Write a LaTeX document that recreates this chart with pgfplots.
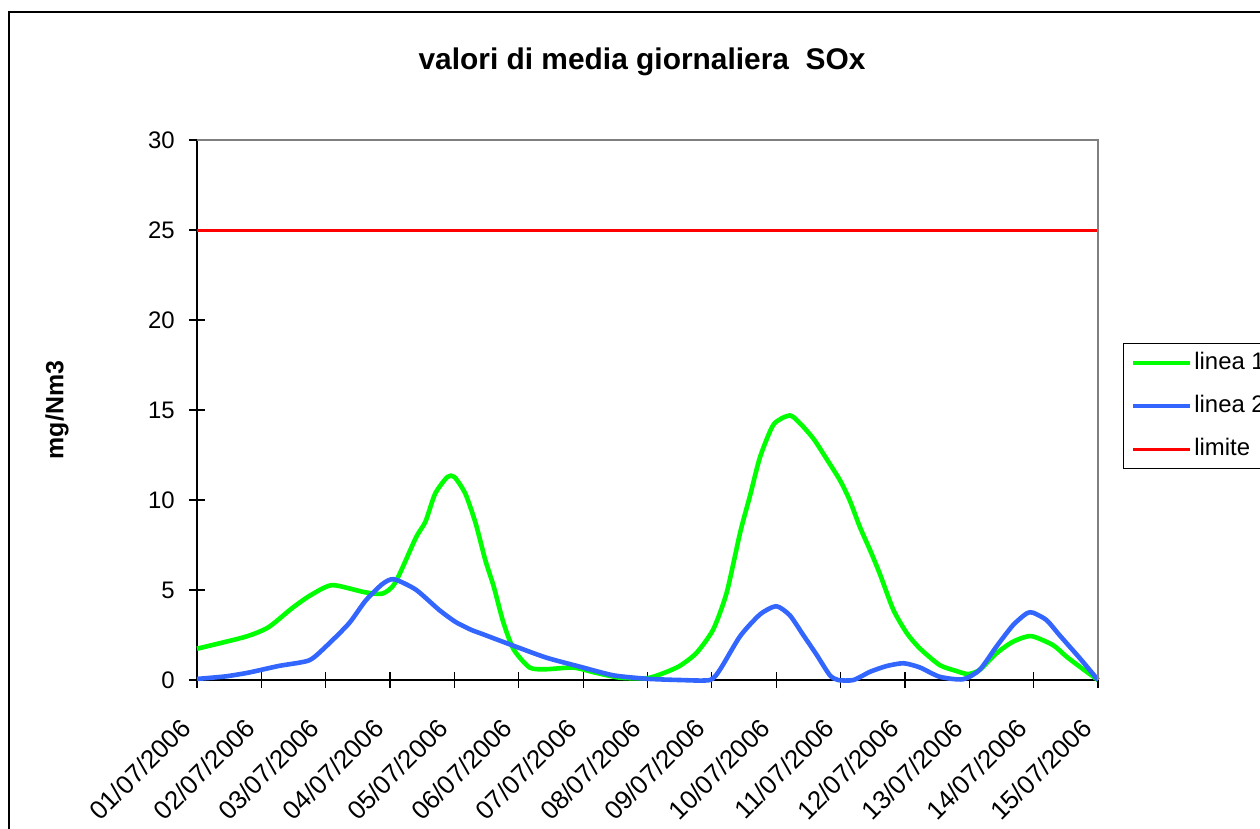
\documentclass[border=0pt]{standalone}
\usepackage{fontspec}
\setmainfont{Liberation Sans}
\usepackage{pgfplots}
\pgfplotsset{compat=1.18}
\definecolor{lgreen}{HTML}{00FF00}
\definecolor{lblue}{HTML}{3366FF}
\definecolor{lred}{HTML}{FF0000}
\definecolor{bordergray}{HTML}{808080}

\begin{document}
\begin{tikzpicture}
\useasboundingbox (0,0) rectangle (630bp,-414.5bp);
\begin{scope}
\clip (0,0) rectangle (630bp,-414.5bp);
\draw[line width=1bp] (4.5bp,-6bp) rectangle (700bp,-500bp);
\node[font=\fontsize{15}{17}\selectfont\bfseries] at (321bp,-31bp) {valori di media giornaliera\ \ SOx};
\begin{axis}[
  at={(98.5bp,-340bp)}, anchor=south west,
  scale only axis, width=450.5bp, height=270bp,
  xmin=0, xmax=14, ymin=0, ymax=30,
  axis lines=left,
  axis line style={-, line width=0.8bp, black},
  tick align=center,
  major tick length=8bp,
  tick style={line width=0.6bp, black},
  xtick={0,1,...,14},
  xticklabels={01/07/2006,02/07/2006,03/07/2006,04/07/2006,05/07/2006,06/07/2006,07/07/2006,08/07/2006,09/07/2006,10/07/2006,11/07/2006,12/07/2006,13/07/2006,14/07/2006,15/07/2006},
  ytick={0,5,...,30},
  /pgf/number format/assume math mode=true,
  yticklabel style={font=\fontsize{12}{14}\selectfont, anchor=east, inner sep=0pt, xshift=-7bp},
  xticklabel style={font=\fontsize{13}{15}\selectfont, anchor=north east, inner sep=0pt, xshift=-9bp, yshift=-14bp, rotate=45},
  ylabel={mg/Nm3},
  ylabel style={font=\fontsize{12.5}{14}\selectfont\bfseries, at={(axis description cs:-0.1554,0.5)}, anchor=center},
  clip=false,
  legend style={at={(axis description cs:1,0.5)}, anchor=west, xshift=12.35bp, yshift=2bp,
    draw=black, line width=0.75bp, fill=white, font=\fontsize{12}{14}\selectfont,
    inner xsep=3.65bp, inner ysep=3bp, row sep=8bp,
    nodes={inner sep=1bp, text height=9bp, text depth=2.5bp}},
  legend cell align=left,
  legend image code/.code={\draw[#1] (0bp,0bp) -- (28.5bp,0bp);},
]
\addplot[lgreen, line width=2.3bp, smooth, tension=0.4, line join=round] coordinates {
(0,1.74) (0.75,2.4) (1.11,2.93) (1.48,4.0) (1.76,4.7) (2.1,5.27) (2.6,4.88) (2.88,4.8)
(3.08,5.4) (3.4,7.9) (3.55,8.8) (3.7,10.35) (3.89,11.28) (4.0,11.28) (4.17,10.35) (4.33,8.7)
(4.48,6.66) (4.61,5.2) (4.76,3.2) (4.92,1.7) (5.17,0.69) (5.43,0.6) (5.85,0.69) (6.2,0.4)
(6.57,0.13) (6.99,0.1) (7.24,0.37) (7.5,0.78) (7.76,1.5) (8.02,2.8) (8.23,4.85) (8.44,8.2)
(8.59,10.2) (8.75,12.4) (8.96,14.2) (9.21,14.7) (9.37,14.26) (9.58,13.4) (9.78,12.3) (9.99,11.1)
(10.14,10.0) (10.30,8.5) (10.46,7.2) (10.61,5.9) (10.82,3.9) (11.03,2.6) (11.23,1.76) (11.54,0.83)
(11.80,0.5) (11.98,0.33) (12.16,0.56) (12.42,1.48) (12.68,2.13) (12.96,2.44) (13.30,1.94) (13.51,1.3)
(13.75,0.65) (14,0)
};
\addlegendentry{linea 1}
\addplot[lblue, line width=2.3bp, smooth, tension=0.4, line join=round] coordinates {
(0,0.06) (0.44,0.2) (0.8,0.41) (1.27,0.78) (1.74,1.09) (2.0,1.85) (2.36,3.14) (2.62,4.41)
(2.88,5.33) (3.06,5.6) (3.4,5.02) (3.76,3.9) (4.02,3.22) (4.27,2.77) (4.40,2.6) (4.92,1.9)
(5.43,1.24) (5.95,0.74) (6.47,0.26) (6.99,0.07) (7.5,0) (7.97,0) (8.13,0.6) (8.44,2.44)
(8.75,3.65) (9.0,4.1) (9.21,3.6) (9.42,2.5) (9.63,1.39) (9.83,0.28) (9.96,0) (10.2,0)
(10.46,0.46) (10.72,0.78) (10.98,0.93) (11.23,0.7) (11.54,0.18) (11.9,0.04) (12.16,0.56) (12.42,1.85)
(12.68,3.05) (12.89,3.7) (12.99,3.74) (13.2,3.33) (13.4,2.5) (13.72,1.2) (14,0)
};
\addlegendentry{linea 2}
\addplot[lred, line width=1.5bp] coordinates {(0,25) (14,25)};
\addlegendentry{limite}
\draw[bordergray, line width=0.8bp] (rel axis cs:0,1) -- (rel axis cs:1,1) -- (rel axis cs:1,0);
\end{axis}
\end{scope}
\end{tikzpicture}
\end{document}
